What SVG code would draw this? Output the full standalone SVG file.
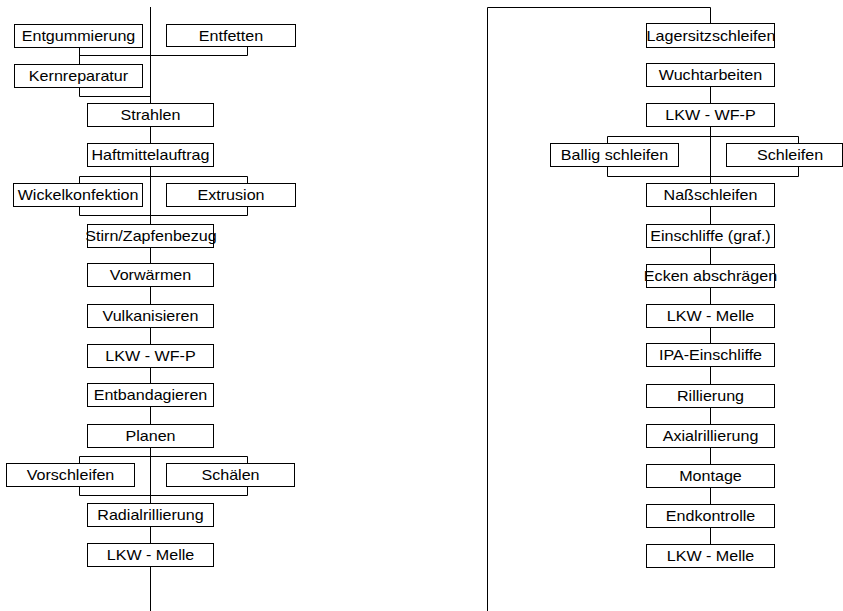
<svg xmlns="http://www.w3.org/2000/svg" width="843" height="611" viewBox="0 0 843 611">
<style>
.b{fill:#fff;stroke:#000;stroke-width:1}
.l{fill:none;stroke:#000;stroke-width:1}
text{font-family:"Liberation Sans",Arial,sans-serif;font-size:14px;fill:#000;text-anchor:middle}
</style>
<rect width="843" height="611" fill="#fff"/>
<g id="connectors">
<path class="l" d="M150.5 7V611"/>
<path class="l" d="M79.5 47V64M79.5 55.5H247.5V46M79.5 87V96.5H150.5"/>
<path class="l" d="M79.5 183V176.5H247.5V183M79.5 207V215.5H247.5V207"/>
<path class="l" d="M79.5 463V456.5H247.5V463M79.5 487V495.5H247.5V487"/>
<path class="l" d="M487.5 611V7.5H710.5V23"/>
<path class="l" d="M710.5 86V567"/>
<path class="l" d="M607.5 143V136.5H798.5V143M607.5 167V176.5H798.5V167"/>
</g>
<g id="n-entgummierung"><rect class="b" x="14.5" y="24.5" width="128" height="23"/><text transform="translate(78.5,41) scale(1.15,1)">Entgummierung</text></g>
<g id="n-entfetten"><rect class="b" x="166.5" y="24.5" width="129" height="22"/><text transform="translate(231,40.5) scale(1.15,1)">Entfetten</text></g>
<g id="n-kernreparatur"><rect class="b" x="14.5" y="64.5" width="128" height="23"/><text transform="translate(78.5,81) scale(1.15,1)">Kernreparatur</text></g>
<g id="n-strahlen"><rect class="b" x="87.5" y="103.5" width="126" height="23"/><text transform="translate(150.5,120) scale(1.15,1)">Strahlen</text></g>
<g id="n-haftmittelauftrag"><rect class="b" x="87.5" y="143.5" width="126" height="23"/><text transform="translate(150.5,160) scale(1.15,1)">Haftmittelauftrag</text></g>
<g id="n-wickelkonfektion"><rect class="b" x="13.5" y="183.5" width="129" height="23"/><text transform="translate(78,200) scale(1.15,1)">Wickelkonfektion</text></g>
<g id="n-extrusion"><rect class="b" x="166.5" y="183.5" width="129" height="23"/><text transform="translate(231,200) scale(1.15,1)">Extrusion</text></g>
<g id="n-stirn"><rect class="b" x="87.5" y="224.5" width="126" height="23"/><text transform="translate(151,241) scale(1.15,1)">Stirn/Zapfenbezug</text></g>
<g id="n-vorwaermen"><rect class="b" x="87.5" y="263.5" width="126" height="23"/><text transform="translate(150.5,280) scale(1.15,1)">Vorwärmen</text></g>
<g id="n-vulkanisieren"><rect class="b" x="87.5" y="304.5" width="126" height="23"/><text transform="translate(150.5,321) scale(1.15,1)">Vulkanisieren</text></g>
<g id="n-lkw-wfp-1"><rect class="b" x="87.5" y="344.5" width="126" height="23"/><text transform="translate(150.5,361) scale(1.15,1)">LKW - WF-P</text></g>
<g id="n-entbandagieren"><rect class="b" x="87.5" y="383.5" width="126" height="23"/><text transform="translate(150.5,400) scale(1.15,1)">Entbandagieren</text></g>
<g id="n-planen"><rect class="b" x="87.5" y="424.5" width="126" height="23"/><text transform="translate(150.5,441) scale(1.15,1)">Planen</text></g>
<g id="n-vorschleifen"><rect class="b" x="6.5" y="463.5" width="128" height="23"/><text transform="translate(70.5,480) scale(1.15,1)">Vorschleifen</text></g>
<g id="n-schaelen"><rect class="b" x="166.5" y="463.5" width="128" height="23"/><text transform="translate(230.5,480) scale(1.15,1)">Schälen</text></g>
<g id="n-radialrillierung"><rect class="b" x="87.5" y="503.5" width="126" height="23"/><text transform="translate(150.5,520) scale(1.15,1)">Radialrillierung</text></g>
<g id="n-lkw-melle-1"><rect class="b" x="87.5" y="543.5" width="126" height="23"/><text transform="translate(150.5,560) scale(1.15,1)">LKW - Melle</text></g>
<g id="n-lagersitzschleifen"><rect class="b" x="646.5" y="23.5" width="128" height="24"/><text transform="translate(711,40.5) scale(1.15,1)">Lagersitzschleifen</text></g>
<g id="n-wuchtarbeiten"><rect class="b" x="646.5" y="63.5" width="128" height="23"/><text transform="translate(710.5,80) scale(1.15,1)">Wuchtarbeiten</text></g>
<g id="n-lkw-wfp-2"><rect class="b" x="646.5" y="103.5" width="128" height="23"/><text transform="translate(710.5,120) scale(1.15,1)">LKW - WF-P</text></g>
<g id="n-ballig"><rect class="b" x="550.5" y="143.5" width="128" height="23"/><text transform="translate(614.5,160) scale(1.15,1)">Ballig schleifen</text></g>
<g id="n-schleifen"><rect class="b" x="726.5" y="143.5" width="116" height="23"/><text transform="translate(790,160) scale(1.15,1)">Schleifen</text></g>
<g id="n-nassschleifen"><rect class="b" x="646.5" y="183.5" width="128" height="23"/><text transform="translate(710.5,200) scale(1.15,1)">Naßschleifen</text></g>
<g id="n-einschliffe"><rect class="b" x="646.5" y="224.5" width="128" height="23"/><text transform="translate(710.5,241) scale(1.15,1)">Einschliffe (graf.)</text></g>
<g id="n-ecken"><rect class="b" x="646.5" y="264.5" width="128" height="23"/><text transform="translate(710.5,281) scale(1.15,1)">Ecken abschrägen</text></g>
<g id="n-lkw-melle-2"><rect class="b" x="646.5" y="304.5" width="128" height="23"/><text transform="translate(710.5,321) scale(1.15,1)">LKW - Melle</text></g>
<g id="n-ipa"><rect class="b" x="646.5" y="343.5" width="128" height="23"/><text transform="translate(710.5,360) scale(1.15,1)">IPA-Einschliffe</text></g>
<g id="n-rillierung"><rect class="b" x="646.5" y="384.5" width="128" height="23"/><text transform="translate(710.5,401) scale(1.15,1)">Rillierung</text></g>
<g id="n-axialrillierung"><rect class="b" x="646.5" y="424.5" width="128" height="23"/><text transform="translate(710.5,441) scale(1.15,1)">Axialrillierung</text></g>
<g id="n-montage"><rect class="b" x="646.5" y="464.5" width="128" height="23"/><text transform="translate(710.5,481) scale(1.15,1)">Montage</text></g>
<g id="n-endkontrolle"><rect class="b" x="646.5" y="504.5" width="128" height="23"/><text transform="translate(710.5,521) scale(1.15,1)">Endkontrolle</text></g>
<g id="n-lkw-melle-3"><rect class="b" x="646.5" y="544.5" width="128" height="23"/><text transform="translate(710.5,561) scale(1.15,1)">LKW - Melle</text></g>
</svg>
